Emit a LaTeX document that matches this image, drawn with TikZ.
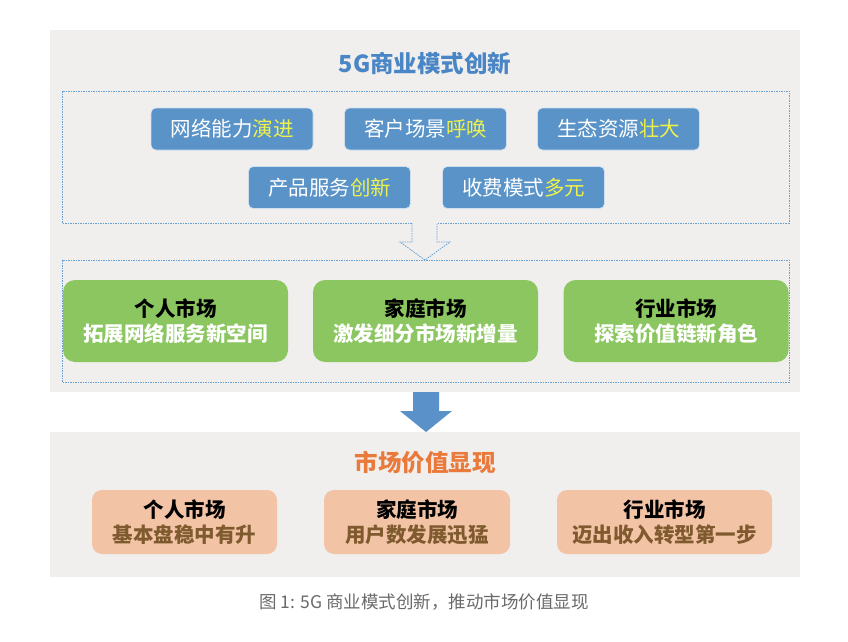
\documentclass[tikz,border=0pt]{standalone}
\usepackage{fontspec}
\setmainfont{Noto Sans CJK SC}
\newfontfamily\cjk{Noto Sans CJK SC}
\usetikzlibrary{positioning}
\definecolor{panelgray}{HTML}{F0EFEE}
\definecolor{titleblue}{HTML}{4A86C5}
\definecolor{boxblue}{HTML}{5A93C8}
\definecolor{hiyellow}{HTML}{EEF24A}
\definecolor{dashblue}{HTML}{6A9FD2}
\definecolor{boxgreen}{HTML}{8BC660}
\definecolor{arrowblue}{HTML}{5A91C8}
\definecolor{orangetitle}{HTML}{EA7A3B}
\definecolor{peach}{HTML}{F3C3A5}
\definecolor{brownsub}{HTML}{7E5A2E}
\definecolor{capgray}{HTML}{6A6A6A}
\tikzset{
  bluebox/.style={fill=boxblue, draw=white!70!boxblue, line width=0.6pt, rounded corners=5pt, minimum width=162pt, minimum height=42pt, text=white, font=\cjk\fontsize{20.5}{24}\selectfont, inner sep=0pt},
  greenbox/.style={fill=boxgreen, rounded corners=12pt, minimum width=225pt, minimum height=82pt, inner sep=0pt, align=center, font=\cjk\bfseries\fontsize{20.5}{25}\selectfont},
  peachbox/.style={fill=peach, rounded corners=10pt, minimum height=64pt, inner sep=0pt, align=center, font=\cjk\bfseries\fontsize{20.5}{25}\selectfont},
  dashframe/.style={draw=dashblue, line width=0.8pt, dash pattern=on 1.5pt off 1pt}
}
\newcommand{\hy}[1]{\textcolor{hiyellow}{#1}}
\begin{document}
\begin{tikzpicture}[x=1pt,y=-1pt]
\useasboundingbox (0,0) rectangle (848,642);
\fill[white] (0,0) rectangle (848,642);
% panels
\fill[panelgray] (50,30) rectangle (800,392);
\fill[panelgray] (50,432) rectangle (800,577);
% titles
\node[text=titleblue, font=\cjk\bfseries\fontsize{23.5}{28}\selectfont] (t1) at (425,63) {5G商业模式创新};
% dashed frames
\draw[dashframe] (62,91) rectangle (789,223);
\draw[dashframe] (62,260) rectangle (789,382);
% blue boxes
\node[bluebox] (b1) at (232,129) {网络能力\hy{演进}};
\node[bluebox] (b2) at (425.5,129) {客户场景\hy{呼唤}};
\node[bluebox] (b3) at (618.5,129) {生态资源\hy{壮大}};
\node[bluebox] (b4) at (329.5,187.5) {产品服务\hy{创新}};
\node[bluebox] (b5) at (523.5,187.5) {收费模式\hy{多元}};
% hollow arrow
\draw[dashframe, fill=panelgray] (412,223) -- (412,242) -- (400,242) -- (425,260) -- (450,242) -- (437,242) -- (437,223);
% green boxes
\node[greenbox] (g1) at (175.5,321) {个人市场\\\textcolor{white}{拓展网络服务新空间}};
\node[greenbox] (g2) at (425.5,321) {家庭市场\\\textcolor{white}{激发细分市场新增量}};
\node[greenbox] (g3) at (676,321) {行业市场\\\textcolor{white}{探索价值链新角色}};
% solid arrow
\fill[arrowblue] (413,392) -- (413,411) -- (400,411) -- (426,432) -- (452,411) -- (439,411) -- (439,392) -- cycle;
% bottom title
\node[text=orangetitle, font=\cjk\bfseries\fontsize{23.5}{28}\selectfont] (t2) at (425,463) {市场价值显现};
% peach boxes
\node[peachbox, minimum width=185pt] (p1) at (184.5,522) {个人市场\\\textcolor{brownsub}{基本盘稳中有升}};
\node[peachbox, minimum width=186pt] (p2) at (417,522) {家庭市场\\\textcolor{brownsub}{用户数发展迅猛}};
\node[peachbox, minimum width=215pt] (p3) at (664.5,522) {行业市场\\\textcolor{brownsub}{迈出收入转型第一步}};
% caption
\node[text=capgray, font=\cjk\fontsize{17.5}{20}\selectfont] (cap) at (424,602) {图 1: 5G 商业模式创新，推动市场价值显现};
\end{tikzpicture}
\end{document}
